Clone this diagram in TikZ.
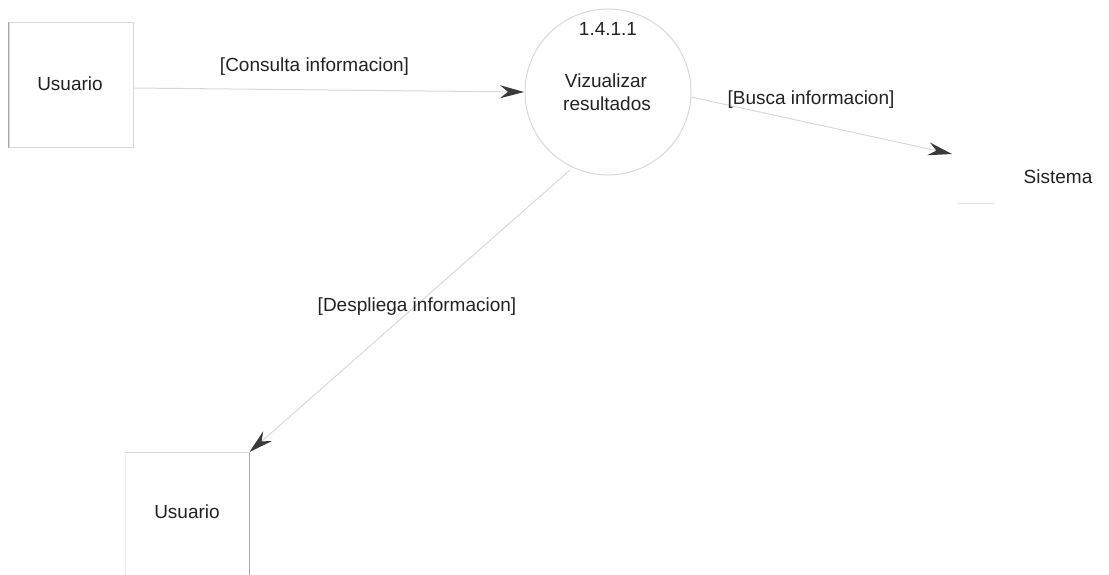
\documentclass[tikz,border=0pt]{standalone}
\usepackage{fontspec}
\setmainfont{Liberation Sans}
\usetikzlibrary{arrows.meta}
\definecolor{ink}{HTML}{222222}
\definecolor{edge}{HTML}{D8D8D8}
\definecolor{darkedge}{HTML}{A8A8A8}
\definecolor{tipcol}{HTML}{3A3A3A}
\tikzset{
  lbl/.style={font=\fontsize{19}{23}\selectfont, text=ink, inner sep=0pt, anchor=base},
  entity/.style={draw=edge, line width=1pt, minimum width=124pt, minimum height=125pt, inner sep=0pt},
  process/.style={draw=edge, line width=1pt, circle, minimum size=166pt, inner sep=0pt},
  flow/.style={draw=edge, line width=1pt,
    -{Stealth[length=24pt, width=13pt, inset=8pt, color=tipcol, fill=tipcol]}},
}
\begin{document}
\begin{tikzpicture}[x=1pt, y=-1pt]
  \useasboundingbox (0,0) rectangle (1109,574);

  % external entity: user (source)
  \node[entity] (u1) at (71,84.5) {};
  \draw[darkedge, line width=1pt] (u1.north west) -- (u1.south west);
  \node[lbl] at (70,90) {Usuario};

  % process bubble
  \node[process] (p) at (608,92) {};
  \node[lbl] at (608,35) {1.4.1.1};
  \node[lbl] at (606,87) {Vizualizar};
  \node[lbl] at (607,110) {resultados};

  % external entity: system
  \coordinate (s) at (952,154);
  \node[lbl] (sys) at (1058,183) {Sistema};
  \draw[edge!70, line width=1pt] (957,203) -- (995,203);

  % external entity: user (sink)
  \node[entity, draw=edge!40] (u2) at (187,515) {};
  \draw[darkedge, line width=1pt] (u2.north east) -- (u2.south east);
  \draw[edge, line width=1pt] (u2.north west) -- (u2.north east);
  \node[lbl] at (187,518) {Usuario};

  % data flows
  \coordinate (a1) at (133,88);
  \coordinate (b1) at (524,92);
  \draw[flow] (a1) -- (b1);
  \node[lbl] at (314.5,71) {[Consulta informacion]};

  \coordinate (a2) at (691,97);
  \draw[flow] (a2) -- (s);
  \node[lbl] at (811,104) {[Busca informacion]};

  \coordinate (a3) at (570,170);
  \draw[flow] (a3) -- (u2.north east);
  \node[lbl] at (417,311) {[Despliega informacion]};
\end{tikzpicture}
\end{document}
